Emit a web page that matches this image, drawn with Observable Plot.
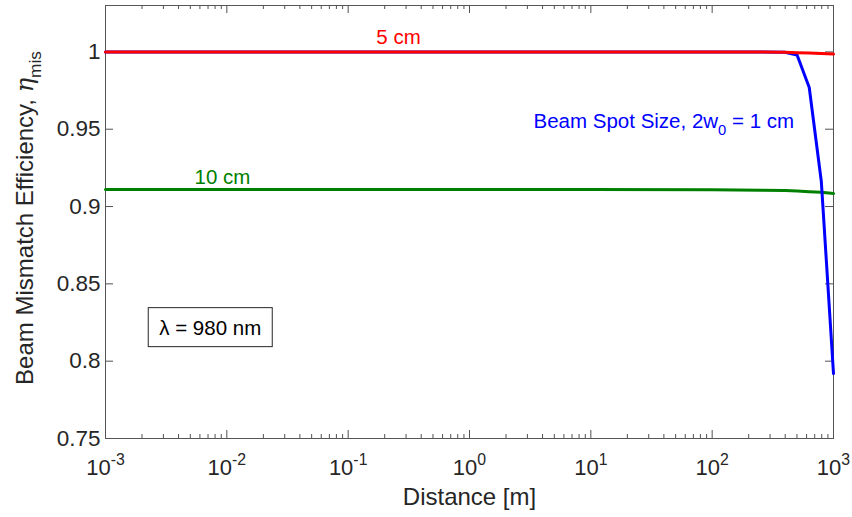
<!DOCTYPE html>
<html><head><meta charset="utf-8">
<script src="https://cdn.jsdelivr.net/npm/d3@7"></script>
<script src="https://cdn.jsdelivr.net/npm/@observablehq/plot@0.6"></script>
<style>
body{margin:0;background:#fff}
svg{display:block}
</style>
</head><body><div id="chart"></div>
<script>
// ---- data ----
const distance = [0.001, 0.01, 0.1, 1, 10, 100, 251, 398, 501, 631, 794, 1000];
const eta1cm  = [1, 1, 1, 1, 1, 1, 1, 0.9998, 0.998, 0.977, 0.916, 0.792];
const eta5cm  = [1, 1, 1, 1, 1, 1, 0.9999, 0.9997, 0.9995, 0.9993, 0.999, 0.9986];
const eta10cm = [0.911, 0.911, 0.911, 0.911, 0.911, 0.9108, 0.9106, 0.9103, 0.91, 0.9096, 0.9092, 0.9084];
const seriesNames = ["10 cm", "Beam Spot Size, 2w_{0} = 1 cm", "5 cm"];
const seriesColors = ["#008000", "#0000ff", "#ff0000"];
const xMajorTicks = [1e-3, 1e-2, 1e-1, 1, 10, 100, 1000];
const xTickLabels = ["10^{-3}", "10^{-2}", "10^{-1}", "10^{0}", "10^{1}", "10^{2}", "10^{3}"];
const xMinorTicks = d3.range(-3, 3).flatMap(k => d3.range(2, 10).map(m => m * Math.pow(10, k)));
const yTicks = [0.75, 0.8, 0.85, 0.9, 0.95, 1];
const yTickLabels = ["0.75", "0.8", "0.85", "0.9", "0.95", "1"];
const xLabel = "Distance [m]";
const yLabel = "Beam Mismatch Efficiency, η_{mis}";
const noteText = "λ = 980 nm";

// ---- build tables ----
const rows = (vals, name) => distance.map((d, i) => ({distance: d, eta: vals[i], series: name}));
const green = rows(eta10cm, seriesNames[0]);
const blue = rows(eta1cm, seriesNames[1]);
const red = rows(eta5cm, seriesNames[2]);

const W = 852, H = 517;
const mL = 105, mR = 19, mT = 5, mB = 79;
const fw = W - mL - mR, fh = H - mT - mB;
const axisColor = "#262626";
const font = "'Liberation Sans', Arial, Helvetica, sans-serif";

const svg = Plot.plot({
  width: W, height: H,
  marginLeft: mL, marginRight: mR, marginTop: mT, marginBottom: mB,
  style: {fontFamily: font, background: "#fff", color: axisColor},
  x: {type: "log", domain: [1e-3, 1e3], axis: null},
  y: {domain: [0.75, 1.03], axis: null},
  marks: [
    // inward ticks (MATLAB style box)
    Plot.ruleX(xMajorTicks, {x: d => d, insetTop: fh - 8, stroke: axisColor, strokeWidth: 0.8}),
    Plot.ruleX(xMajorTicks, {x: d => d, insetBottom: fh - 8, stroke: axisColor, strokeWidth: 0.8}),
    Plot.ruleX(xMinorTicks, {x: d => d, insetTop: fh - 4, stroke: axisColor, strokeWidth: 0.8}),
    Plot.ruleX(xMinorTicks, {x: d => d, insetBottom: fh - 4, stroke: axisColor, strokeWidth: 0.8}),
    Plot.ruleY(yTicks, {y: d => d, insetRight: fw - 8, stroke: axisColor, strokeWidth: 0.8}),
    Plot.ruleY(yTicks, {y: d => d, insetLeft: fw - 8, stroke: axisColor, strokeWidth: 0.8}),
    Plot.frame({stroke: "#555", strokeWidth: 1}),
    // series
    Plot.line(green, {x: "distance", y: "eta", stroke: seriesColors[0], strokeWidth: 3}),
    Plot.line(blue, {x: "distance", y: "eta", stroke: seriesColors[1], strokeWidth: 3}),
    Plot.line(red, {x: "distance", y: "eta", stroke: seriesColors[2], strokeWidth: 3}),
    // tick labels
    Plot.text(xMajorTicks, {x: d => d, frameAnchor: "bottom", text: (d, i) => xTickLabels[i], dy: 29, textAnchor: "middle", lineAnchor: "middle", fontSize: 22, fill: axisColor}),
    Plot.text(yTicks, {y: d => d, frameAnchor: "left", text: (d, i) => yTickLabels[i], dx: -5, textAnchor: "end", lineAnchor: "middle", fontSize: 22.5, fill: axisColor}),
    // axis labels
    Plot.text([xLabel], {frameAnchor: "bottom", text: d => d, dy: 59, textAnchor: "middle", lineAnchor: "middle", fontSize: 24, fill: axisColor}),
    Plot.text([yLabel], {frameAnchor: "left", text: d => d, dx: -80, dy: -4, rotate: -90, textAnchor: "middle", lineAnchor: "middle", fontSize: 24, fill: axisColor}),
    // annotations
    Plot.text([seriesNames[2]], {x: [0.26], y: [1], text: d => d, dy: -14, textAnchor: "middle", lineAnchor: "middle", fontSize: 20.5, fill: seriesColors[2]}),
    Plot.text([seriesNames[0]], {x: [0.0092], y: [0.911], text: d => d, dy: -12, textAnchor: "middle", lineAnchor: "middle", fontSize: 20.5, fill: seriesColors[0]}),
    Plot.text([seriesNames[1]], {x: [3.37], y: [0.955], text: d => d, textAnchor: "start", lineAnchor: "middle", fontSize: 20.5, fill: seriesColors[1]}),
    Plot.text([noteText], {x: [0.0073], y: [0.8214], text: d => d, textAnchor: "middle", lineAnchor: "middle", fontSize: 20.5, fill: "#000"})
  ]
});

document.getElementById("chart").appendChild(svg);

// rich text: ^{...} superscript, _{...} subscript
d3.select(svg).selectAll("text").each(function() {
  const s = this.textContent;
  if (!/[\^_]\{/.test(s)) return;
  const fs = parseFloat(getComputedStyle(this).fontSize) || 20;
  const parts = [];
  const re = /([\^_])\{([^}]*)\}/g;
  let last = 0, m;
  while ((m = re.exec(s))) {
    if (m.index > last) parts.push({t: s.slice(last, m.index), k: "n"});
    parts.push({t: m[2], k: m[1] === "^" ? "sup" : "sub"});
    last = re.lastIndex;
  }
  if (last < s.length) parts.push({t: s.slice(last), k: "n"});
  const el = d3.select(this);
  el.text(null);
  let shift = 0;
  parts.forEach(p => {
    const target = p.k === "sup" ? -0.42 * fs : p.k === "sub" ? 0.32 * fs : 0;
    const ts = el.append("tspan").attr("dy", target - shift).text(p.t);
    if (p.k !== "n") ts.attr("font-size", 0.72 * fs);
    shift = target;
  });
  // italic eta
  el.selectAll("tspan").each(function() {
    const t = this.textContent;
    if (t.endsWith("η")) {
      d3.select(this).text(t.slice(0, -1));
      const it = document.createElementNS("http://www.w3.org/2000/svg", "tspan");
      it.setAttribute("font-style", "italic");
      it.setAttribute("font-family", "'DejaVu Serif', 'Liberation Serif', serif");
      it.textContent = "η";
      this.parentNode.insertBefore(it, this.nextSibling);
    }
  });
});

// box around the wavelength note
d3.select(svg).selectAll("text").filter(function() { return this.textContent === noteText; }).each(function() {
  const b = this.getBBox();
  const padX = 11, padY = 8;
  const rect = document.createElementNS("http://www.w3.org/2000/svg", "rect");
  rect.setAttribute("x", b.x - padX);
  rect.setAttribute("y", b.y - padY);
  rect.setAttribute("width", b.width + 2 * padX);
  rect.setAttribute("height", b.height + 2 * padY);
  rect.setAttribute("fill", "#fff");
  rect.setAttribute("stroke", "#262626");
  rect.setAttribute("stroke-width", 1);
  if (this.getAttribute("transform")) rect.setAttribute("transform", this.getAttribute("transform"));
  this.parentNode.insertBefore(rect, this);
});
</script>
</body></html>
